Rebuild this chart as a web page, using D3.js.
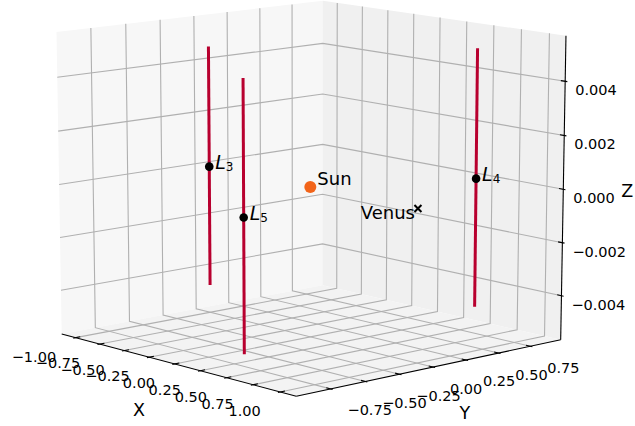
<!DOCTYPE html>
<html>
<head>
<meta charset="utf-8">
<script src="https://d3js.org/d3.v7.min.js"></script>
<style>
  body { margin: 0; background: #fff; }
  svg { font-family: "DejaVu Sans", sans-serif; }
</style>
</head>
<body>
<svg id="chart" width="635" height="426"></svg>
<script>
// bodies
var bodyNames = ["Sun", "Venus"];
var bodyX = [0, 1];
var bodyY = [0, 0];
var bodyZ = [0, 0];

// small vertical orbits around L3, L4, L5
var lagNames = ["3", "4", "5"];
var lagX = [-1.0, 0.5, 0.5];
var lagY = [0, 0.866, -0.866];
var lagZmin = [-0.0046, -0.0049, -0.00495];
var lagZmax = [0.0046, 0.0049, 0.00495];

// tick values
var xTicks = [-1, -0.75, -0.5, -0.25, 0, 0.25, 0.5, 0.75, 1];
var yTicks = [-0.75, -0.5, -0.25, 0, 0.25, 0.5, 0.75];
var zTicks = [-0.004, -0.002, 0, 0.002, 0.004];

var svg = d3.select("#chart");

// axis limits: 5% margin plus a small view margin
function lim(vals) {
  var e = d3.extent(vals), m = (e[1] - e[0]) * 0.05;
  var lo = e[0] - m, hi = e[1] + m, v = (hi - lo) / 48;
  return [lo - v, hi + v];
}
var xs = d3.scaleLinear().domain(lim(bodyX.concat(lagX))).range([-0.5, 0.5]);
var ys = d3.scaleLinear().domain(lim(bodyY.concat(lagY))).range([-0.5, 0.5]);
var zs = d3.scaleLinear().domain(lim(bodyZ.concat(lagZmin, lagZmax))).range([-0.5, 0.5]);

// camera
var elev = 12 * Math.PI / 180, azim = -42 * Math.PI / 180, dist = 10;
var u = [-Math.sin(azim), Math.cos(azim), 0],
    n = [Math.cos(azim) * Math.cos(elev), Math.sin(azim) * Math.cos(elev), Math.sin(elev)],
    v = [-Math.cos(azim) * Math.sin(elev), -Math.sin(azim) * Math.sin(elev), Math.cos(elev)];

// projected plane -> pixels
var sx = d3.scaleLinear().domain([-0.1, 0.1]).range([-46.7, 667.3]);
var sy = d3.scaleLinear().domain([-0.1, 0.1]).range([496.7, -122.9]);

function dot(a, b) { return a[0] * b[0] + a[1] * b[1] + a[2] * b[2]; }
function Pr(rx, ry, rz) {
  var p = [rx, ry, rz], w = dist - dot(n, p);
  return [sx(dot(u, p) / w), sy(dot(v, p) / w)];
}
function P(x, y, z) { return Pr(xs(x), ys(y), zs(z)); }

var line = d3.line();
var fmt2 = function(t) { return d3.format(".2f")(t).replace("-", "\u2212"); };
var fmt3 = function(t) { return d3.format(".3f")(t).replace("-", "\u2212"); };

// panes
var panes = [
  {c: "#f7f7f7", pts: [[-.5,-.5,-.5],[-.5,.5,-.5],[-.5,.5,.5],[-.5,-.5,.5]]},
  {c: "#f0f0f0", pts: [[-.5,.5,-.5],[.5,.5,-.5],[.5,.5,.5],[-.5,.5,.5]]},
  {c: "#f3f3f3", pts: [[-.5,-.5,-.5],[.5,-.5,-.5],[.5,.5,-.5],[-.5,.5,-.5]]}
];
svg.append("g").selectAll("path")
  .data(panes)
  .enter().append("path")
    .attr("d", function(d) { return line(d.pts.map(function(p) { return Pr(p[0], p[1], p[2]); })) + "Z"; })
    .attr("fill", function(d) { return d.c; });

// grid lines
var grid = svg.append("g")
    .attr("fill", "none")
    .attr("stroke", "#b0b0b0")
    .attr("stroke-width", 1.1);
grid.selectAll(".gx").data(xTicks).enter().append("path")
    .attr("d", function(t) { var r = xs(t); return line([Pr(r,-.5,-.5), Pr(r,.5,-.5), Pr(r,.5,.5)]); });
grid.selectAll(".gy").data(yTicks).enter().append("path")
    .attr("d", function(t) { var r = ys(t); return line([Pr(.5,r,-.5), Pr(-.5,r,-.5), Pr(-.5,r,.5)]); });
grid.selectAll(".gz").data(zTicks).enter().append("path")
    .attr("d", function(t) { var r = zs(t); return line([Pr(.5,.5,r), Pr(-.5,.5,r), Pr(-.5,-.5,r)]); });

// axis lines and tick marks
var ax = svg.append("g").attr("stroke", "#000").attr("stroke-width", 1.1).attr("fill", "none");
ax.append("path").attr("d", line([Pr(-.5,-.5,-.5), Pr(.5,-.5,-.5)]));
ax.append("path").attr("d", line([Pr(.5,-.5,-.5), Pr(.5,.5,-.5)]));
ax.append("path").attr("d", line([Pr(.5,.5,-.5), Pr(.5,.5,.5)]));
var tin = 0.0167, tout = 0.0083;
ax.selectAll(".tx").data(xTicks).enter().append("path")
    .attr("d", function(t) { var r = xs(t); return line([Pr(r,-.5-tout,-.5), Pr(r,-.5+tin,-.5)]); });
ax.selectAll(".ty").data(yTicks).enter().append("path")
    .attr("d", function(t) { var r = ys(t); return line([Pr(.5+tout,r,-.5), Pr(.5-tin,r,-.5)]); });
ax.selectAll(".tz").data(zTicks).enter().append("path")
    .attr("d", function(t) { var r = zs(t); return line([Pr(.5+tout,.5,r), Pr(.5-tin,.5,r)]); });

// tick labels
var tl = svg.append("g").attr("font-size", "14.5px").attr("fill", "#000");
tl.selectAll(".lx").data(xTicks).enter().append("text")
    .attr("x", function(t) { return Pr(xs(t), -.5, -.5)[0] - 19.5; })
    .attr("y", function(t) { return Pr(xs(t), -.5, -.5)[1] + 19.2; })
    .attr("text-anchor", "end")
    .attr("dominant-baseline", "central")
    .text(fmt2);
tl.selectAll(".ly").data(yTicks).enter().append("text")
    .attr("x", function(t) { return Pr(.5, ys(t), -.5)[0] + 17; })
    .attr("y", function(t) { return Pr(.5, ys(t), -.5)[1] + 21.5; })
    .attr("text-anchor", "start")
    .attr("dominant-baseline", "central")
    .text(fmt2);
tl.selectAll(".lz").data(zTicks).enter().append("text")
    .attr("x", function(t) { return Pr(.5, .5, zs(t))[0] + 10; })
    .attr("y", function(t) { return Pr(.5, .5, zs(t))[1] + 9; })
    .attr("text-anchor", "start")
    .attr("dominant-baseline", "central")
    .text(fmt3);

// axis labels
var axLabels = [
  {t: "X", p: Pr(0, -.5, -.5), dx: -35.6, dy: 46},
  {t: "Y", p: Pr(.5, 0, -.5), dx: 32, dy: 46},
  {t: "Z", p: Pr(.5, .5, 0), dx: 64, dy: 2}
];
svg.append("g").attr("font-size", "17.5px").selectAll("text")
  .data(axLabels)
  .enter().append("text")
    .attr("x", function(d) { return d.p[0] + d.dx; })
    .attr("y", function(d) { return d.p[1] + d.dy; })
    .attr("text-anchor", "middle")
    .attr("dominant-baseline", "central")
    .text(function(d) { return d.t; });

// orbits
svg.append("g").selectAll("path")
  .data(lagNames)
  .enter().append("path")
    .attr("d", function(d, i) { return line([P(lagX[i], lagY[i], lagZmin[i]), P(lagX[i], lagY[i], lagZmax[i])]); })
    .attr("stroke", "#b8002f")
    .attr("stroke-width", 3)
    .attr("fill", "none");

// lagrange points
var lag = svg.append("g").selectAll("g")
  .data(lagNames)
  .enter().append("g")
    .attr("transform", function(d, i) { var p = P(lagX[i], lagY[i], 0); return "translate(" + p[0] + "," + p[1] + ")"; });
lag.append("circle").attr("r", 4.3).attr("fill", "#000");
var lt = lag.append("text")
    .attr("x", 6)
    .attr("y", 2)
    .attr("font-size", "19px");
lt.append("tspan").attr("font-style", "italic").text("L");
lt.append("tspan").attr("font-size", "12px").attr("dy", 2).text(function(d) { return d; });

// sun
var sun = P(bodyX[0], bodyY[0], bodyZ[0]);
svg.append("circle")
    .attr("cx", sun[0]).attr("cy", sun[1])
    .attr("r", 6)
    .attr("fill", "#f26419");
svg.append("text")
    .attr("x", sun[0] + 7).attr("y", sun[1] - 1.5)
    .attr("font-size", "18px")
    .text(bodyNames[0]);

// venus
var ven = P(bodyX[1], bodyY[1], bodyZ[1]);
svg.append("path")
    .attr("d", "M" + (ven[0] - 3.5) + "," + (ven[1] - 3.5) + "L" + (ven[0] + 3.5) + "," + (ven[1] + 3.5) +
               "M" + (ven[0] - 3.5) + "," + (ven[1] + 3.5) + "L" + (ven[0] + 3.5) + "," + (ven[1] - 3.5))
    .attr("stroke", "#000")
    .attr("stroke-width", 2);
svg.append("text")
    .attr("x", ven[0] - 3).attr("y", ven[1] + 11)
    .attr("text-anchor", "end")
    .attr("font-size", "18px")
    .text(bodyNames[1]);
</script>
</body>
</html>
